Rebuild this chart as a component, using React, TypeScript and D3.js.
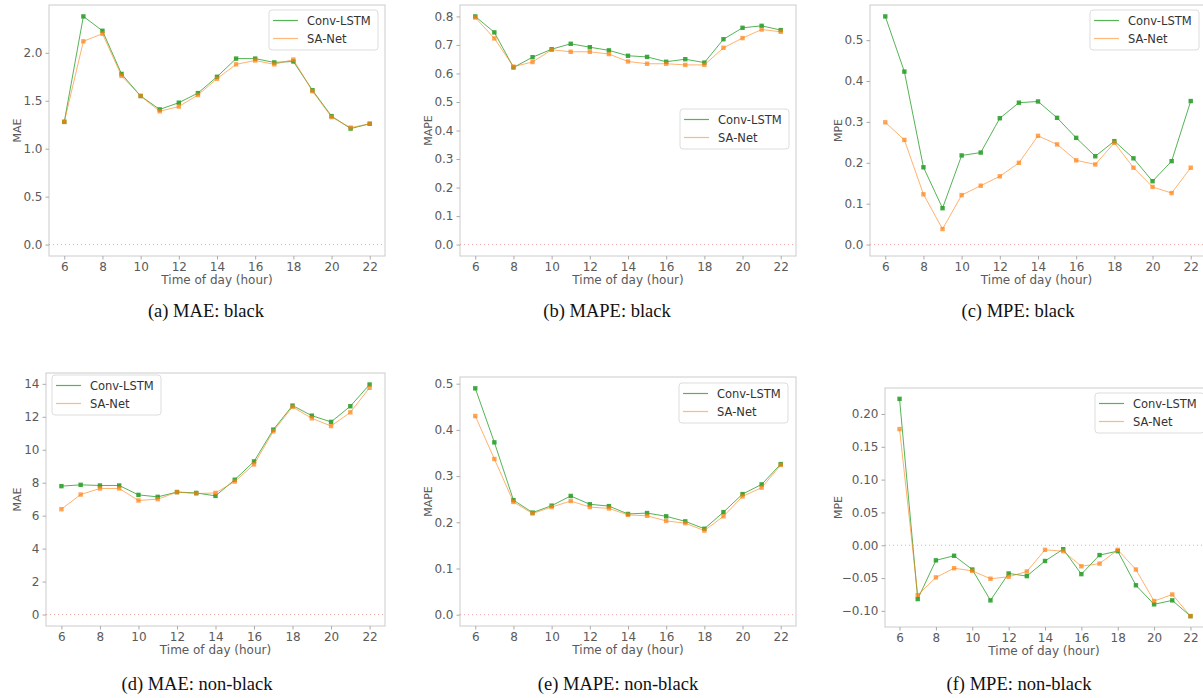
import React, { useEffect, useRef } from 'react';
import * as d3 from 'd3';

const hours = [6, 7, 8, 9, 10, 11, 12, 13, 14, 15, 16, 17, 18, 19, 20, 21, 22];
const hourTicks = [6, 8, 10, 12, 14, 16, 18, 20, 22];

// black
const maeBlackConv = [1.28, 2.38, 2.23, 1.78, 1.55, 1.41, 1.48, 1.58, 1.75, 1.94, 1.94, 1.90, 1.91, 1.61, 1.34, 1.21, 1.26];
const maeBlackSa = [1.28, 2.12, 2.20, 1.76, 1.55, 1.39, 1.44, 1.56, 1.73, 1.88, 1.92, 1.88, 1.93, 1.60, 1.33, 1.22, 1.26];
const mapeBlackConv = [0.80, 0.744, 0.621, 0.657, 0.685, 0.704, 0.692, 0.681, 0.662, 0.658, 0.641, 0.650, 0.638, 0.720, 0.760, 0.767, 0.752];
const mapeBlackSa = [0.796, 0.723, 0.624, 0.640, 0.683, 0.676, 0.676, 0.668, 0.642, 0.634, 0.634, 0.630, 0.630, 0.690, 0.724, 0.754, 0.746];
const mpeBlackConv = [0.558, 0.423, 0.189, 0.089, 0.218, 0.225, 0.309, 0.347, 0.350, 0.310, 0.261, 0.216, 0.253, 0.211, 0.155, 0.204, 0.351];
const mpeBlackSa = [0.299, 0.256, 0.123, 0.038, 0.121, 0.144, 0.167, 0.200, 0.266, 0.245, 0.206, 0.196, 0.249, 0.188, 0.141, 0.126, 0.188];

// non-black
const maeNonConv = [7.79, 7.87, 7.83, 7.83, 7.26, 7.14, 7.43, 7.38, 7.20, 8.18, 9.29, 11.22, 12.68, 12.07, 11.69, 12.64, 13.96];
const maeNonSa = [6.39, 7.28, 7.65, 7.65, 6.92, 7.00, 7.43, 7.34, 7.38, 8.07, 9.11, 11.12, 12.60, 11.91, 11.44, 12.27, 13.76];
const mapeNonConv = [0.490, 0.373, 0.248, 0.221, 0.236, 0.257, 0.239, 0.235, 0.218, 0.220, 0.213, 0.202, 0.186, 0.222, 0.261, 0.282, 0.326];
const mapeNonSa = [0.430, 0.337, 0.244, 0.219, 0.233, 0.246, 0.233, 0.230, 0.216, 0.214, 0.203, 0.198, 0.182, 0.213, 0.256, 0.275, 0.324];
const mpeNonConv = [0.223, -0.082, -0.023, -0.016, -0.037, -0.084, -0.043, -0.047, -0.024, -0.006, -0.044, -0.015, -0.009, -0.061, -0.090, -0.084, -0.108];
const mpeNonSa = [0.177, -0.076, -0.049, -0.035, -0.039, -0.051, -0.048, -0.040, -0.007, -0.009, -0.032, -0.028, -0.007, -0.037, -0.085, -0.075, -0.108];

const seriesNames = ['Conv-LSTM', 'SA-Net'];

const maeBlackTicks = [0, 0.5, 1.0, 1.5, 2.0];
const mapeBlackTicks = [0, 0.1, 0.2, 0.3, 0.4, 0.5, 0.6, 0.7, 0.8];
const mpeBlackTicks = [0, 0.1, 0.2, 0.3, 0.4, 0.5];
const maeNonTicks = [0, 2, 4, 6, 8, 10, 12, 14];
const mapeNonTicks = [0, 0.1, 0.2, 0.3, 0.4, 0.5];
const mpeNonTicks = [-0.10, -0.05, 0, 0.05, 0.10, 0.15, 0.20];

const captions = ['(a) MAE: black', '(b) MAPE: black', '(c) MPE: black', '(d) MAE: non-black', '(e) MAPE: non-black', '(f) MPE: non-black'];

const panels = [
  { conv: maeBlackConv, sa: maeBlackSa, ticks: maeBlackTicks, fmt: '.1f', label: 'MAE', caption: captions[0],
    box: { l: 49, r: 385, t: 5, b: 256 }, ylab: 17, legend: [269, 10], cap: [206, 311] },
  { conv: mapeBlackConv, sa: mapeBlackSa, ticks: mapeBlackTicks, fmt: '.1f', label: 'MAPE', caption: captions[1],
    box: { l: 460, r: 796, t: 5, b: 256 }, ylab: 428, legend: [680, 109], cap: [607, 311] },
  { conv: mpeBlackConv, sa: mpeBlackSa, ticks: mpeBlackTicks, fmt: '.1f', label: 'MPE', caption: captions[2],
    box: { l: 870, r: 1206, t: 5, b: 256 }, ylab: 838, legend: [1090, 10], cap: [1018, 311] },
  { conv: maeNonConv, sa: maeNonSa, ticks: maeNonTicks, fmt: 'd', label: 'MAE', caption: captions[3],
    box: { l: 46, r: 385, t: 373, b: 626 }, ylab: 17, legend: [52, 375], cap: [197, 684] },
  { conv: mapeNonConv, sa: mapeNonSa, ticks: mapeNonTicks, fmt: '.1f', label: 'MAPE', caption: captions[4],
    box: { l: 460, r: 796, t: 377, b: 626 }, ylab: 428, legend: [679, 383], cap: [618, 684] },
  { conv: mpeNonConv, sa: mpeNonSa, ticks: mpeNonTicks, fmt: '.2f', label: 'MPE', caption: captions[5],
    box: { l: 885, r: 1205, t: 388, b: 627 }, ylab: 838, legend: [1095, 393], cap: [1019, 684] },
];

const GREEN = '#2ca02c';
const ORANGE = '#ff7f0e';
const SANS = 'DejaVu Sans, sans-serif';

const App = () => {
  const ref = useRef<SVGSVGElement>(null);

  useEffect(() => {
    const svg = d3.select(ref.current);
    svg.selectAll('*').remove();

    panels.forEach(p => {
      const { l, r, t, b } = p.box;
      const g = svg.append('g');

      // matplotlib-like autoscale with 5% margins, y includes the zero line
      const xPad = (22 - 6) * 0.05;
      const x = d3.scaleLinear().domain([6 - xPad, 22 + xPad]).range([l, r]);
      const all = p.conv.concat(p.sa);
      const lo = Math.min(0, d3.min(all) as number);
      const hi = d3.max(all) as number;
      const yPad = (hi - lo) * 0.05;
      const y = d3.scaleLinear().domain([lo - yPad, hi + yPad]).range([b, t]);

      // frame
      g.append('rect')
        .attr('x', l).attr('y', t).attr('width', r - l).attr('height', b - t)
        .attr('fill', 'white').attr('stroke', '#cccccc').attr('stroke-width', 1);

      // x axis
      const xAxis = d3.axisBottom(x).tickValues(hourTicks).tickSize(3.5).tickPadding(3).tickFormat(d3.format('d'));
      const xa = g.append('g').attr('transform', `translate(0,${b})`).call(xAxis);
      xa.select('.domain').remove();
      xa.selectAll('line').attr('stroke', '#aaa');
      xa.selectAll('text').attr('fill', '#5a5a5a').attr('font-size', 12).attr('font-family', SANS);

      // y axis
      const yAxis = d3.axisLeft(y).tickValues(p.ticks).tickSize(3.5).tickPadding(3).tickFormat(d3.format(p.fmt));
      const ya = g.append('g').attr('transform', `translate(${l},0)`).call(yAxis);
      ya.select('.domain').remove();
      ya.selectAll('line').attr('stroke', '#aaa');
      ya.selectAll('text').attr('fill', '#5a5a5a').attr('font-size', 12).attr('font-family', SANS);

      // labels
      g.append('text')
        .attr('x', (l + Math.min(r, 1203)) / 2).attr('y', b + 24)
        .attr('text-anchor', 'middle').attr('dominant-baseline', 'central')
        .attr('fill', '#5a5a5a').attr('font-size', 12).attr('font-family', SANS)
        .text('Time of day (hour)');
      g.append('text')
        .attr('transform', `translate(${p.ylab},${(t + b) / 2}) rotate(-90)`)
        .attr('text-anchor', 'middle').attr('dominant-baseline', 'central')
        .attr('fill', '#5a5a5a').attr('font-size', 11).attr('font-family', SANS)
        .text(p.label);

      // zero line
      g.append('line')
        .attr('x1', l).attr('x2', r).attr('y1', y(0)).attr('y2', y(0))
        .attr('stroke', '#d9534f').attr('stroke-opacity', 0.5).attr('stroke-width', 1)
        .attr('stroke-dasharray', '1,3');

      const line = d3.line<number>().x((_, i) => x(hours[i])).y(d => y(d));

      const drawSeries = (vals: number[], color: string, lineOp: number, markOp: number) => {
        g.append('path').datum(vals)
          .attr('d', line).attr('fill', 'none')
          .attr('stroke', color).attr('stroke-width', 1).attr('stroke-opacity', lineOp);
        g.append('g').selectAll('rect').data(vals).join('rect')
          .attr('x', (_, i) => x(hours[i]) - 2.2)
          .attr('y', d => y(d) - 2.2)
          .attr('width', 4.4).attr('height', 4.4)
          .attr('fill', color).attr('fill-opacity', markOp);
      };
      drawSeries(p.conv, GREEN, 0.8, 0.9);
      drawSeries(p.sa, ORANGE, 0.6, 0.7);

      // legend
      const [lx, ly] = p.legend;
      const lg = g.append('g').attr('transform', `translate(${lx},${ly})`);
      lg.append('rect')
        .attr('width', 109).attr('height', 40).attr('rx', 3)
        .attr('fill', 'white').attr('fill-opacity', 0.8)
        .attr('stroke', '#dddddd');
      seriesNames.forEach((name, i) => {
        const cy = 10.5 + i * 18;
        lg.append('line')
          .attr('x1', 4).attr('x2', 29).attr('y1', cy).attr('y2', cy)
          .attr('stroke', i === 0 ? GREEN : ORANGE)
          .attr('stroke-opacity', i === 0 ? 0.8 : 0.55).attr('stroke-width', 1.2);
        lg.append('text')
          .attr('x', 38).attr('y', cy).attr('dominant-baseline', 'central')
          .attr('fill', '#333').attr('font-size', 11.5).attr('font-family', SANS)
          .text(name);
      });

      // caption
      g.append('text')
        .attr('x', p.cap[0]).attr('y', p.cap[1])
        .attr('text-anchor', 'middle').attr('dominant-baseline', 'central')
        .attr('fill', '#111').attr('font-size', 18.5)
        .attr('font-family', 'Liberation Serif, Times New Roman, serif')
        .text(p.caption);
    });
  }, []);

  return (
    <svg
      ref={ref}
      width="1203"
      height="698"
      style={{ position: 'absolute', left: 0, top: 0, background: 'white' }}
    ></svg>
  );
};

export default App;
